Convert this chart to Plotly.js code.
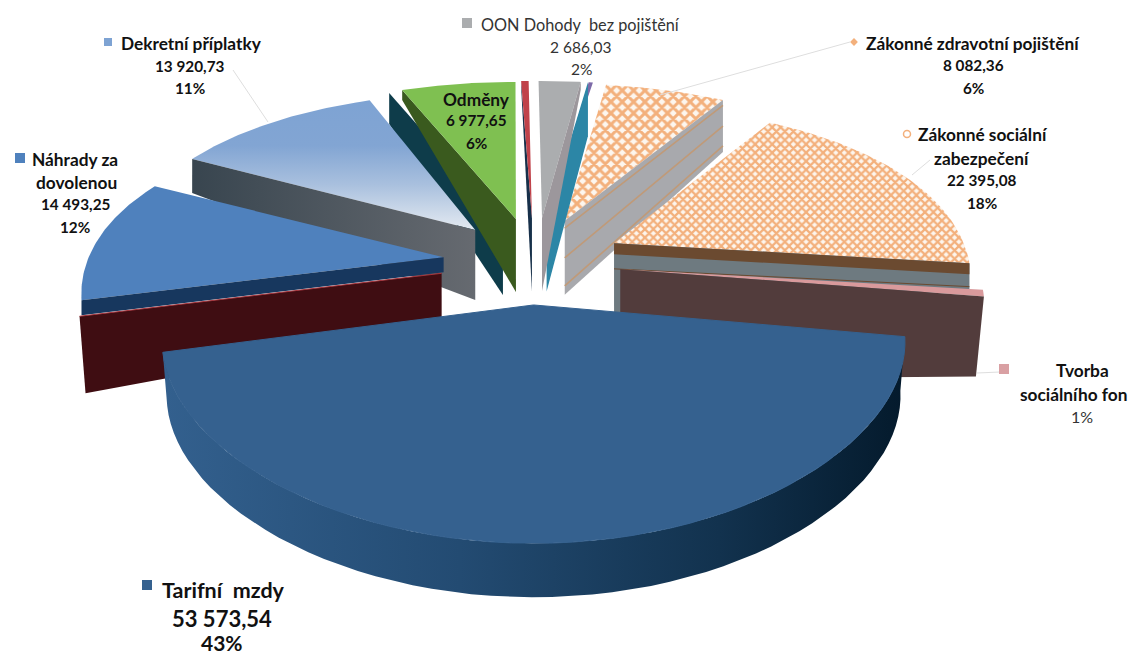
<!DOCTYPE html>
<html><head><meta charset="utf-8">
<script src="https://cdn.plot.ly/plotly-3.0.1.min.js"></script>
<style>html,body{margin:0;padding:0;background:#fff}#c{width:1130px;height:657px}</style>
</head><body><div id="c"></div>
<script>
// ---- data (clockwise, starting with the front slice)
const categories = ["Tarifní  mzdy","Náhrady za dovolenou","Dekretní příplatky","Odměny","Ostatní","OON Dohody  bez pojištění","Ostatní 2","Zákonné zdravotní pojištění","Zákonné sociální zabezpečení","Tvorba sociálního fon"];
const values = [53573.54,14493.25,13920.73,6977.65,500,2686.03,300,8082.36,22395.08,1250];
const percents = [43,12,11,6,0,2,0,6,18,1];

// ---- geometry of the tilted pie
const CX=535, CY=265, EX=88, EY=47, RX=355, RY=174, KX=0.2, KY=0.27, START=100;
// small per-slice corrections: [edge0 deg, edge1 deg, dx, dy, x scale]
const tune=[[0,0,-5,-7,1.025],[1.3,0,-4,-2,1],[0,1.2,-1,0,0.98],[0,2,-2,0,1],[0,0,-1,0,1],[0,0,2,0,1.05],[0,0,0,0,1.12],[0,0,0,0,1],[0,0,0,-1,0.985],[0,-1.3,-2,-2,1.005]];
const total = values.reduce((a,b)=>a+b,0);
let acc=START;
const ang = values.map((v,i)=>{const a=[acc+tune[i][0],acc+v/total*360+tune[i][1]];acc+=v/total*360;return a;});
const rad=d=>d*Math.PI/180;
function apex(i){const m=rad((ang[i][0]+ang[i][1])/2);return [CX+EX*Math.sin(m)+tune[i][2],CY-EY*Math.cos(m)+tune[i][3]];}
function pt(i,d){const [ax,ay]=apex(i);const u=Math.sin(rad(d)),v=-Math.cos(rad(d));return [ax+RX*tune[i][4]*u/(1-KX*v),ay+RY*v/(1-KY*v)];}
function arc(i){const o=[];const n=60;for(let j=0;j<=n;j++){o.push(pt(i,ang[i][0]+(ang[i][1]-ang[i][0])*j/n));}return o;}
const traces=[];
function poly(points,style){traces.push(Object.assign({type:'scatter',mode:'lines',x:points.map(p=>p[0]),y:points.map(p=>p[1]),fill:'toself',line:{width:0,color:'rgba(0,0,0,0)'},hoverinfo:'skip',showlegend:false},style));}
function face(i,style){const a=apex(i);poly([a,...arc(i),a],style);}
// radial wall on edge e (0 start, 1 end) of slice i
function wall(i,e,dx,dy,dA,dO,color,style,bx){bx=bx||0;const a=apex(i),o=pt(i,ang[i][e]);
  poly([[a[0]+dx,a[1]+dy],[o[0]+dx,o[1]+dy],[o[0]+dx+bx,o[1]+dy+dO],[a[0]+dx,a[1]+dy+dA]],Object.assign({fillcolor:color},style||{}));}
function stripe(i,e,fA,fO,dA,dO,color,w,dx,dy){dx=dx||0;dy=dy||0;const a=apex(i),o=pt(i,ang[i][e]);
  traces.push({type:'scatter',mode:'lines',x:[a[0]+dx,o[0]+dx],y:[a[1]+dy+dA*fA,o[1]+dy+dO*fO],line:{color:color,width:w},hoverinfo:'skip',showlegend:false});}
const checker={shape:'x',size:8,solidity:0.6,fgcolor:'#f3b07c',bgcolor:'#fdf6ee'};
const checker2={shape:'x',size:6,solidity:0.6,fgcolor:'#f3b07c',bgcolor:'#fdf6ee'};

// back slices first
face(7,{fillcolor:'#f3b07c',fillpattern:checker});
wall(7,1,0,0,74,52,'#a8a9ad');
[0.1,0.5,0.88].forEach(f=>stripe(7,1,f,f,74,52,'#c09a78',1.6));
face(6,{fillcolor:'#7d6aa8'});
wall(6,0,0,0,73,54,'#2c86a6');
face(5,{fillcolor:'#abadaf'});
wall(5,1,0,0,73,8,'#9c979c');
wall(4,0,0,0,73,6,'#17304a');
face(4,{fillcolor:'#c0424a'});
wall(3,0,-13,3,73,31,'#0e3c4a');
wall(3,0,0,0,73,10,'#3a5a1e');
face(3,{fillcolor:'#7fc051'});
face(2,{fillcolor:'#7ea3d3',fillgradient:{type:'vertical',colorscale:[[0,'#e4eaf1'],[0.35,'#a9c0de'],[0.65,'#82a5d3'],[1,'#7ea3d3']]}});
wall(2,0,0,0,70,34,'#4a5560',{fillgradient:{type:'horizontal',colorscale:[[0,'#38454f'],[1,'#666a70']]}});
face(1,{fillcolor:'#4f81bd'});
wall(1,0,0,0,15,15,'#17375e');
face(8,{fillcolor:'#f3b07c',fillpattern:checker2});
wall(8,1,0,0,75,26,'#6e7a80');
wall(8,1,0,0,11,11,'#6b4a30');
stripe(8,1,0.34,0.9,75,26,'#6b4a30',1);
face(9,{fillcolor:'#d99a9c'});
wall(9,1,0,0,110,80,'#523c3c',null,-8);
wall(1,0,-2,16,54,77,'#3f0d12',null,6);
stripe(1,0,0,0,0,0,'#a5343c',1,-2,16);
const A0=apex(0), arc0=arc(0), D=54;
const rim=[...arc0,...arc0.slice().reverse().map(p=>[p[0]+(A0[0]-p[0])*0.012,p[1]+D])];
poly(rim,{fillcolor:'#1f4468',fillgradient:{type:'horizontal',colorscale:[[0,'#33608e'],[0.4,'#234b72'],[0.75,'#12324e'],[1,'#041a2c']]}});
face(0,{fillcolor:'#35618f',line:{width:1,color:'#35618f'}});

function seg(x1,y1,x2,y2){traces.push({type:'scatter',mode:'lines',x:[x1,x2],y:[y1,y2],line:{color:'#dedede',width:1},hoverinfo:'skip',showlegend:false});}
seg(660,95,850,42);seg(268,122,233,70);seg(912,175,930,160);seg(977,373,1000,372);

function key(x,y,color,size,sym,lc){traces.push({type:'scatter',mode:'markers',x:[x],y:[y],marker:{color:color,size:size,symbol:sym||'square',line:{width:lc?1.5:0,color:lc||color}},hoverinfo:'skip',showlegend:false});}
key(467,23,'#abadaf',10);key(854,42,'#f3b07c',6,'diamond');key(907,134,'#fff',7,'circle','#f3b07c');
key(1004,369,'#d9a0a3',10);key(147,585,'#35618f',10);key(20,158,'#4f81bd',10);key(108,42,'#7ea3d3',8);

const fmt=v=>{const s=v.toFixed(2).replace('.',',');const [a,b]=s.split(',');return a.replace(/\B(?=(\d{3})+$)/g,' ')+','+b;};
const FONT='Lato, "Open Sans", sans-serif';
const ann=[];
function label(t,x,y,size,bold,color){ann.push({text:bold?'<b>'+t+'</b>':t,x:x,y:y,xref:'x',yref:'y',showarrow:false,xanchor:'center',yanchor:'middle',font:{family:FONT,size:size,color:color||'#111'}});}
const N=17.3, V=15.3;
label(categories[5],580,24,16.3,false,'#333');label(fmt(values[5]),580,47,15.5,false,'#333');label(percents[5]+'%',581,69,15.5,false,'#333');
label(categories[7],973,43,N,true);label(fmt(values[7]),973,65,V,true);label(percents[7]+'%',973,88,V,true);
label('Zákonné sociální',983,134,N,true);label('zabezpečení',982,158,N,true);label(fmt(values[8]),982,180,V,true);label(percents[8]+'%',982,203,V,true);
label('Tvorba',1082,370,N,true);label('sociálního fon',1073,394,N,true);label(percents[9]+'%',1082,416,16,false,'#333');
label(categories[0],223,590,21.5,true);label(fmt(values[0]),222,618,22,true);label(percents[0]+'%',222,642,21,true);
label('Náhrady za',75,159,N,true);label('dovolenou',76,182,N,true);label(fmt(values[1]),76,204,V,true);label(percents[1]+'%',75,227,V,true);
label(categories[2],191,43,N,true);label(fmt(values[2]),190,66,V,true);label(percents[2]+'%',190,88,V,true);
label(categories[3],476,99,N,true);label(fmt(values[3]),476,120,V,true);label(percents[3]+'%',476,143,V,true);

Plotly.newPlot('c',traces,{
  width:1130,height:657,margin:{l:0,r:0,t:0,b:0},paper_bgcolor:'#fff',plot_bgcolor:'#fff',showlegend:false,
  xaxis:{range:[0,1130],visible:false,fixedrange:true},
  yaxis:{range:[657,0],visible:false,fixedrange:true},
  annotations:ann
},{displayModeBar:false,staticPlot:true});
</script>
</body></html>
